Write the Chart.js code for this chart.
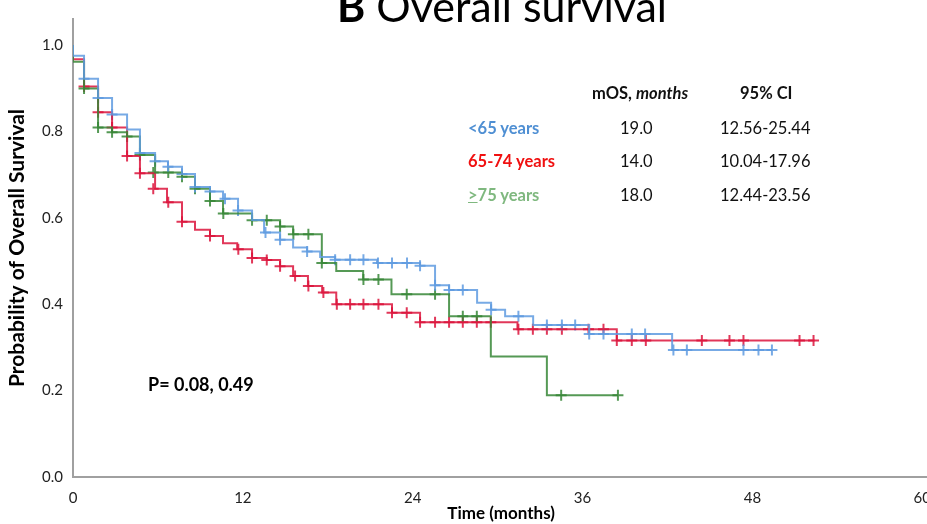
<!DOCTYPE html>
<html>
<head>
<meta charset="utf-8">
<script src="https://cdn.jsdelivr.net/npm/chart.js@4.4.1/dist/chart.umd.min.js"></script>
<style>
html, body { margin: 0; padding: 0; background: #fff; overflow: hidden; }
#wrap { position: relative; width: 927px; height: 524px; overflow: hidden; font-family: Lato, "Open Sans", sans-serif; }
#km { position: absolute; left: 0; top: 0; }
.txt { position: absolute; white-space: nowrap; line-height: 20px; font-size: 16.5px; color: #111; }
.b { font-weight: bold; }
</style>
</head>
<body>
<div id="wrap">
  <canvas id="km" width="943" height="524" style="width:943px;height:524px"></canvas>

  <div class="txt" style="left:337px;top:-16px;font-size:43px;line-height:43px;color:#000"><span class="b">B</span> Overall survival</div>

  <div class="txt b" style="left:592px;top:83px">mOS, <i>months</i></div>
  <div class="txt b" style="left:740px;top:83px">95% CI</div>

  <div class="txt b" style="left:468px;top:118px;color:#4f8fd3">&lt;65 years</div>
  <div class="txt" style="left:620px;top:118px">19.0</div>
  <div class="txt" style="left:720px;top:118px">12.56-25.44</div>

  <div class="txt b" style="left:468px;top:151px;color:#f01010">65-74 years</div>
  <div class="txt" style="left:620px;top:151px">14.0</div>
  <div class="txt" style="left:720px;top:151px">10.04-17.96</div>

  <div class="txt b" style="left:468px;top:185px;color:#7fb87f"><u>&gt;</u>75 years</div>
  <div class="txt" style="left:620px;top:185px">18.0</div>
  <div class="txt" style="left:720px;top:185px">12.44-23.56</div>

  <div class="txt b" style="left:148px;top:373px;font-size:18px;line-height:22px;color:#000">P= 0.08, 0.49</div>
</div>

<script>
// tick labels
const xTicks = [0, 12, 24, 36, 48, 60];
const yTicks = [0, 0.2, 0.4, 0.6, 0.8, 1.0];

// <65 years
const youngTime = [0, 0, 0.78, 1.77, 2.76, 3.82, 4.73, 5.8, 6.71, 7.7, 8.62, 9.68, 10.6, 11.66, 12.65, 13.5,
  14.63, 15.55, 16.54, 17.46, 18.52, 21.48, 24.52, 25.58, 26.57, 28.55, 29.54, 30.53, 32.51, 36.47, 42.33, 49.4];
const youngSurv = [1, 0.975, 0.922, 0.877, 0.839, 0.804, 0.75, 0.731, 0.718, 0.701, 0.671, 0.661, 0.644, 0.617, 0.595, 0.566,
  0.549, 0.531, 0.522, 0.509, 0.503, 0.495, 0.489, 0.444, 0.433, 0.403, 0.387, 0.372, 0.352, 0.331, 0.294, 0.294];
const youngCensor = [0.78, 1.77, 2.76, 4.73, 5.8, 6.71, 7.7, 8.62, 9.68, 10.74, 11.66, 13.6, 14.63, 16.54, 18.52, 19.58,
  20.52, 21.55, 22.54, 23.6, 24.52, 25.58, 26.57, 27.54, 29.54, 31.47, 33.48, 34.54, 35.48, 36.47, 37.48, 39.48, 40.42,
  42.42, 43.37, 47.37, 48.43, 49.38];

// 65-74 years
const midTime = [0, 0, 0.78, 1.77, 2.76, 3.82, 4.73, 5.8, 6.64, 7.7, 8.62, 9.68, 10.6, 11.6, 12.65, 13.69,
  14.63, 15.55, 16.6, 17.6, 18.6, 22.54, 24.52, 31.4, 38.42, 52.4];
const midSurv = [1, 0.967, 0.904, 0.844, 0.809, 0.743, 0.703, 0.667, 0.636, 0.591, 0.572, 0.558, 0.541, 0.527, 0.507, 0.502,
  0.488, 0.465, 0.442, 0.427, 0.40, 0.38, 0.358, 0.342, 0.316, 0.316];
const midCensor = [0.78, 1.77, 2.76, 3.82, 4.73, 5.67, 6.73, 7.7, 9.68, 11.68, 12.65, 13.69, 14.63, 15.69, 16.63, 17.69,
  18.64, 19.58, 20.52, 21.58, 22.54, 23.58, 24.52, 25.58, 26.57, 27.54, 28.53, 29.52, 31.47, 32.49, 33.48, 34.54, 36.42,
  37.48, 38.42, 39.48, 40.47, 44.43, 46.38, 47.37, 51.33, 52.32];

// >=75 years
const oldTime = [0, 0, 0.78, 1.77, 2.76, 3.82, 4.73, 5.8, 7.7, 8.62, 9.68, 10.6, 12.65, 14.63, 15.55, 17.58,
  18.6, 20.5, 22.5, 26.57, 29.52, 33.48, 38.5];
const oldSurv = [1, 0.961, 0.899, 0.809, 0.798, 0.788, 0.745, 0.705, 0.695, 0.667, 0.639, 0.61, 0.594, 0.58, 0.562, 0.495,
  0.477, 0.457, 0.423, 0.372, 0.279, 0.189, 0.189];
const oldCensor = [0.78, 1.77, 2.76, 3.82, 4.73, 5.67, 6.73, 7.7, 8.62, 9.68, 10.62, 12.65, 13.69, 14.63, 15.57, 16.63,
  17.58, 20.52, 21.58, 23.58, 25.58, 27.54, 28.53, 34.49, 38.5];

const blue = 'rgba(95,155,225,0.85)';
const red = 'rgba(220,20,60,0.85)';
const green = 'rgba(55,135,55,0.85)';

function steps(times, surv) {
    let pts = [];
    for (let i = 0; i < times.length; i++) {
        pts.push({ x: times[i], y: surv[i] });
    }
    return pts;
}

// put each + on the curve at its time
function marks(times, surv, cens) {
    return cens.map(function (c) {
        let v = surv[0];
        for (let i = 0; i < times.length; i++) {
            if (times[i] <= c + 0.2) v = surv[i];
        }
        return { x: c, y: v };
    });
}

function curve(label, times, surv, color) {
    return {
        type: 'line', label: label, data: steps(times, surv), stepped: true,
        borderColor: color, borderWidth: 2, pointRadius: 0, fill: false
    };
}

function crosses(label, times, surv, cens, color) {
    return {
        type: 'scatter', label: label, data: marks(times, surv, cens), pointStyle: 'cross',
        pointRadius: 5.5, borderColor: color, borderWidth: 2, backgroundColor: color
    };
}

new Chart(document.getElementById('km'), {
    data: {
        datasets: [
            curve('<65 years', youngTime, youngSurv, blue),
            curve('≥75 years', oldTime, oldSurv, green),
            curve('65-74 years', midTime, midSurv, red),
            crosses('<65 years censored', youngTime, youngSurv, youngCensor, blue),
            crosses('≥75 years censored', oldTime, oldSurv, oldCensor, green),
            crosses('65-74 years censored', midTime, midSurv, midCensor, red)
        ]
    },
    options: {
        responsive: false,
        animation: false,
        layout: { padding: { top: 14, right: 0, left: 0, bottom: 0 } },
        plugins: { legend: { display: false }, tooltip: { enabled: false } },
        scales: {
            x: {
                type: 'linear', min: 0, max: 60.5,
                grid: { display: false, drawTicks: false },
                border: { display: true, color: '#a0a0a0', width: 2 },
                afterBuildTicks: function (s) { s.ticks = xTicks.map(v => ({ value: v })); },
                afterFit: function (s) { s.height = 47; },
                ticks: { padding: 12, color: '#222', font: { family: 'Lato', size: 15 } },
                title: {
                    display: true, text: 'Time (months)', color: '#000',
                    font: { family: 'Lato', size: 17, weight: 'bold' }, padding: { top: 0, bottom: 0 }
                }
            },
            y: {
                type: 'linear', min: 0, max: 1.06,
                grid: { display: false, drawTicks: false },
                border: { display: true, color: '#a0a0a0', width: 2 },
                afterBuildTicks: function (s) { s.ticks = yTicks.map(v => ({ value: v })); },
                afterFit: function (s) { s.width = 73; },
                ticks: {
                    padding: 10, color: '#222', font: { family: 'Lato', size: 15 },
                    callback: function (v) { return v.toFixed(1); }
                },
                title: {
                    display: true, text: 'Probability of Overall Survival', color: '#000',
                    font: { family: 'Lato', size: 21, weight: 'bold' }, padding: { top: 5, bottom: 0 }
                }
            }
        }
    }
});
</script>
</body>
</html>
